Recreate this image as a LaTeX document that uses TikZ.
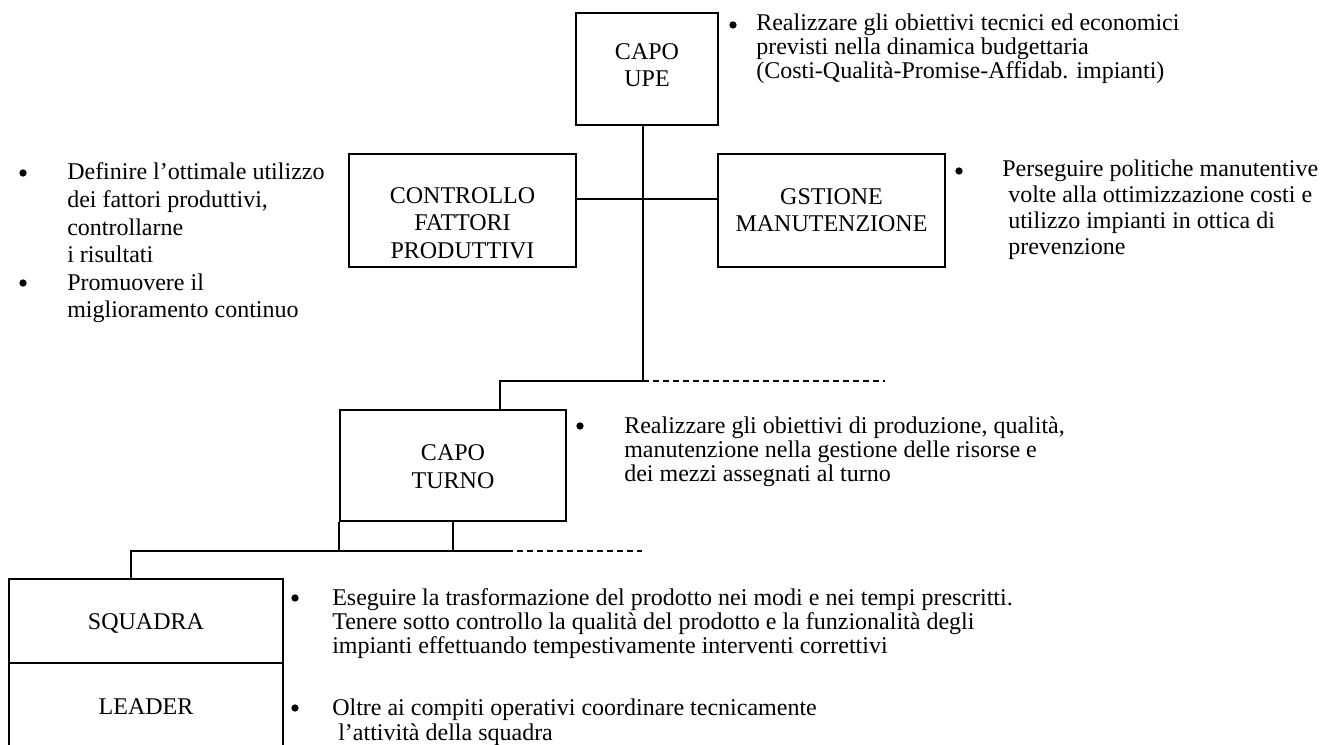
\documentclass[tikz,border=0pt]{standalone}
\usepackage{fontspec}
\setmainfont{Liberation Serif}
\begin{document}
\begin{tikzpicture}[x=0.75pt,y=-0.75pt,
  box/.style={draw,line width=1.5pt,inner sep=0pt,rectangle},
  lbl/.style={inner sep=0pt,align=center,font=\fontsize{18}{20.7}\selectfont},
  txt/.style={inner sep=0pt,anchor=base west,font=\fontsize{18}{20.7}\selectfont},
  dot/.style={circle,fill,inner sep=0pt,minimum size=5.5pt},
  conn/.style={line width=1.5pt},
  dconn/.style={line width=1.2pt,dash pattern=on 4.5pt off 3pt}]
\useasboundingbox (0,0) rectangle (1321,745);
\fill[white] (0,0) rectangle (1321,745);
\clip (0,0) rectangle (1321,745);

% boxes
\node[box,minimum width=106.5pt,minimum height=84pt] (upe) at (647,69) {};
\node[box,minimum width=170.25pt,minimum height=84.75pt] (ctrl) at (462.5,210.5) {};
\node[box,minimum width=170.25pt,minimum height=84.75pt] (gest) at (831.5,210.5) {};
\node[box,minimum width=169.5pt,minimum height=83.25pt] (turno) at (453,465.5) {};
\node[box,minimum width=205.5pt,minimum height=63pt] (squadra) at (146,621) {};
\node[box,minimum width=205.5pt,minimum height=72.75pt] (leader) at (146,711.5) {};

% box labels
\node[lbl] (upeT) at (647,65) {CAPO\\UPE};
\node[lbl] (ctrlT) at (462.5,223) {CONTROLLO\\FATTORI\\PRODUTTIVI};
\node[lbl] (gestT) at (831.5,210) {GSTIONE\\MANUTENZIONE};
\node[lbl] (turnoT) at (453,466.5) {CAPO\\TURNO};
\node[lbl] (squadraT) at (146,623) {SQUADRA};
\node[lbl] (leaderT) at (146,707) {LEADER};

% connectors
\coordinate (j1) at (643,381);
\coordinate (hy) at (643,199);
\coordinate (tx) at (500,381);
\coordinate (d1) at (885,381);
\coordinate (j2) at (131,551);
\coordinate (m2) at (453,551);
\coordinate (s2) at (507,551);
\coordinate (d2) at (642,551);
\draw[conn] (j1 |- upe.south) -- (j1);
\draw[conn] (ctrl.east |- hy) -- (gest.west |- hy);
\draw[conn] (j1) -- (tx) -- (tx |- turno.north);
\draw[dconn] (j1) -- (d1);
\draw[conn] (turno.south west) -- (turno.south west |- j2);
\draw[conn] (turno.south) -- (m2);
\draw[conn] (j2 |- squadra.north) -- (j2) -- (s2);
\draw[dconn] (s2) -- (d2);

% bullets
\node[dot] (b1) at (733,25) {};
\node[dot] (b2) at (23,173) {};
\node[dot] (b3) at (23,283) {};
\node[dot] (b4) at (959,171) {};
\node[dot] (b5) at (580,426) {};
\node[dot] (b6) at (295,598) {};
\node[dot] (b7) at (295,708) {};

% top right text
\node[txt] (t1a) at (756,31) {Realizzare gli obiettivi tecnici ed economici};
\node[txt] (t1b) at (756,55) {previsti nella dinamica budgettaria};
\node[txt] (t1c) at (756,79) {(Costi-Qualità-Promise-Affidab. impianti)};
% left text
\node[txt] (t2a) at (67,180) {Definire l’ottimale utilizzo};
\node[txt] (t2b) at (67,207.6) {dei fattori produttivi,};
\node[txt] (t2c) at (67,235.2) {controllarne};
\node[txt] (t2d) at (67,262.8) {i risultati};
\node[txt] (t3a) at (67,290.4) {Promuovere il};
\node[txt] (t3b) at (67,318) {miglioramento continuo};
% right text
\node[txt] (t4a) at (1002,177) {Perseguire politiche manutentive};
\node[txt] (t4b) at (1002,203) {~volte alla ottimizzazione costi e};
\node[txt] (t4c) at (1002,229) {~utilizzo impianti in ottica di};
\node[txt] (t4d) at (1002,255) {~prevenzione};
% turno text
\node[txt] (t5a) at (624,433) {Realizzare gli obiettivi di produzione, qualità,};
\node[txt] (t5b) at (624,457) {manutenzione nella gestione delle risorse e};
\node[txt] (t5c) at (624,481) {dei mezzi assegnati al turno};
% squadra text
\node[txt] (t6a) at (332,605) {Eseguire la trasformazione del prodotto nei modi e nei tempi prescritti.};
\node[txt] (t6b) at (332,629) {Tenere sotto controllo la qualità del prodotto e la funzionalità degli};
\node[txt] (t6c) at (332,653) {impianti effettuando tempestivamente interventi correttivi};
% leader text
\node[txt] (t7a) at (332,715) {Oltre ai compiti operativi coordinare tecnicamente};
\node[txt] (t7b) at (332,740) {~l’attività della squadra};
\end{tikzpicture}
\end{document}
